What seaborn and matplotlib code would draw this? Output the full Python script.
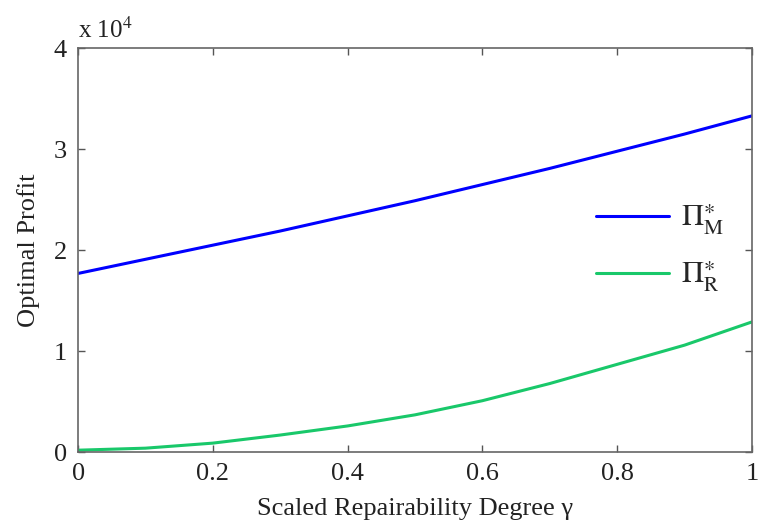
import numpy as np
import pandas as pd
import seaborn as sns
import matplotlib.pyplot as plt

# Values (profit in units of 1e4)
gamma = [0.0, 0.1, 0.2, 0.3, 0.4, 0.5, 0.6, 0.7, 0.8, 0.9, 1.0]
profit_m = [1.77, 1.91, 2.05, 2.19, 2.34, 2.49, 2.65, 2.81, 2.98, 3.15, 3.33]
profit_r = [0.02, 0.04, 0.09, 0.17, 0.26, 0.37, 0.51, 0.68, 0.87, 1.06, 1.29]
xticks = [0, 0.2, 0.4, 0.6, 0.8, 1]
yticks = [0, 1, 2, 3, 4]

sns.set_style('white')
plt.rcParams['font.family'] = ['Liberation Serif', 'DejaVu Serif']
plt.rcParams['mathtext.fontset'] = 'stix'

data = pd.DataFrame({'gamma': gamma, 'M': profit_m, 'R': profit_r})

fig = plt.figure(figsize=(7.58, 5.24), dpi=100)
ax = fig.add_axes([0.103, 0.137, 0.889, 0.771])

sns.lineplot(x='gamma', y='M', data=data, ax=ax, color='#0000ff', linewidth=2.2,
             label=r'$\Pi^{\ast}_{\mathrm{M}}$')
sns.lineplot(x='gamma', y='R', data=data, ax=ax, color='#19c86a', linewidth=2.2,
             label=r'$\Pi^{\ast}_{\mathrm{R}}$')

ax.set_xlim(0, 1)
ax.set_ylim(0, 4)
ax.set_xticks(xticks)
ax.set_xticklabels(['0', '0.2', '0.4', '0.6', '0.8', '1'])
ax.set_yticks(yticks)
ax.set_yticklabels([str(t) for t in yticks])
ax.tick_params(direction='in', length=5, width=1, colors='#555555',
               labelcolor='#222222', labelsize=19, top=True, right=True,
               bottom=True, left=True)
ax.tick_params(axis='x', pad=8)
ax.tick_params(axis='y', pad=8)
for s in ax.spines.values():
    s.set_color('#666666')
    s.set_linewidth(1.2)

ax.set_xlabel('Scaled Repairability Degree γ', fontsize=19, color='#222222', labelpad=9)
ax.set_ylabel('Optimal Profit', fontsize=19, color='#222222', labelpad=10)
ax.text(0.0, 1.012, r'x 10$^4$', transform=ax.transAxes, fontsize=18,
        color='#222222', ha='left', va='bottom')

leg = ax.legend(loc='center right', bbox_to_anchor=(1.0, 0.505), frameon=False,
                fontsize=22, handlelength=2.4, labelspacing=0.75, handletextpad=0.4)

fig.savefig('out.png', dpi=100)
